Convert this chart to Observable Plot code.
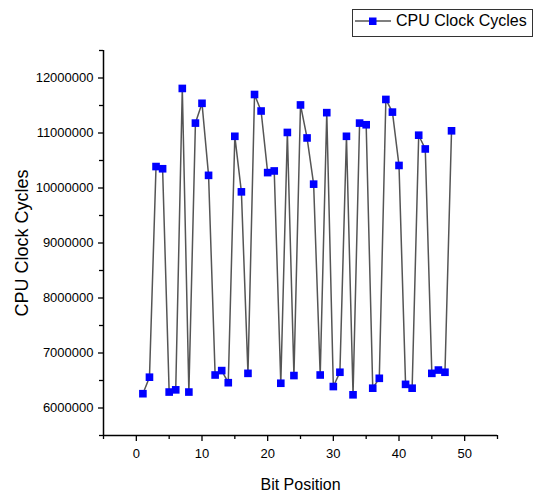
<!DOCTYPE html>
<html><head><meta charset="utf-8">
<script src="https://cdn.jsdelivr.net/npm/d3@7"></script>
<script src="https://cdn.jsdelivr.net/npm/@observablehq/plot@0.6"></script>
<style>
body{margin:0;background:#fff;font-family:"Liberation Sans",Arial,sans-serif;}
#wrap{position:relative;width:537px;height:495px;}
#legend{position:absolute;left:352px;top:9px;width:181px;height:28px;border:1px solid #333;background:#fff;box-sizing:border-box;display:flex;align-items:center;}
#legend span{font-size:16px;color:#000;margin-left:4px;line-height:1;position:relative;top:-2px;}
#legend svg{margin-left:1px;position:relative;top:-2px;}
g[aria-label="y-axis label"] text{font-size:18px;}
g[aria-label="x-axis label"] text{font-size:16px;}
</style></head><body><div id="wrap"><div id="legend"></div></div>
<script>
const bitPosition = [1,2,3,4,5,6,7,8,9,10,11,12,13,14,15,16,17,18,19,20,21,22,23,24,25,26,27,28,29,30,31,32,33,34,35,36,37,38,39,40,41,42,43,44,45,46,47,48];
const clockCycles = [6260000,6560000,10390000,10350000,6290000,6330000,11810000,6290000,11180000,11540000,
  10230000,6600000,6680000,6460000,10940000,9930000,6630000,11700000,11400000,10280000,
  10310000,6450000,11010000,6590000,11510000,10910000,10070000,6600000,11370000,6390000,
  6650000,10940000,6240000,11180000,11150000,6360000,6540000,11610000,11380000,10410000,
  6430000,6360000,10960000,10710000,6630000,6690000,6650000,11040000];
const xTicks = [0,10,20,30,40,50];
const xMinorTicks = [-5,5,15,25,35,45,55];
const yTicks = [6000000,7000000,8000000,9000000,10000000,11000000,12000000];
const yMinorTicks = [5500000,6500000,7500000,8500000,9500000,10500000,11500000,12500000];
const xDomain = [-5,55];
const yDomain = [5500000,12500000];
const seriesName = "CPU Clock Cycles";
const xLabel = "Bit Position";
const yLabel = "CPU Clock Cycles";

const data = bitPosition.map((b,i)=>({bit:b, cycles:clockCycles[i]}));

const chart = Plot.plot({
  width:537, height:495,
  marginLeft:103, marginRight:40, marginTop:50, marginBottom:60,
  style:{fontFamily:'"Liberation Sans", Arial, sans-serif', fontSize:"13px", color:"#000", background:"#fff"},
  x:{domain:xDomain, label:null},
  y:{domain:yDomain, label:null},
  marks:[
    Plot.axisX(xMinorTicks,{tickSize:4, text:null, label:null, strokeWidth:1.3}),
    Plot.axisX(xTicks,{tickSize:6, tickPadding:7, label:xLabel, labelAnchor:"center", labelArrow:"none", labelOffset:54, strokeWidth:1.3}),
    Plot.axisY(yMinorTicks,{tickSize:4, text:null, label:null, strokeWidth:1.3}),
    Plot.axisY(yTicks,{tickSize:5, tickPadding:5, tickFormat:d3.format("d"), label:null, strokeWidth:1.3}),
    Plot.axisY([],{label:yLabel, labelAnchor:"center", labelArrow:"none", labelOffset:88, dx:5, tickSize:0}),
    Plot.ruleY([yDomain[0]], {stroke:"#000", strokeWidth:1.5}),
    Plot.ruleX([xDomain[0]], {stroke:"#000", strokeWidth:1.5}),
    Plot.line(data, {x:"bit", y:"cycles", stroke:"#555", strokeWidth:1.5}),
    Plot.dot(data, {x:"bit", y:"cycles", symbol:"square", fill:"#0000ff", stroke:"none", r:4.3})
  ]
});
document.getElementById("wrap").prepend(chart);

// legend
const lg = document.getElementById("legend");
const sw = d3.create("svg").attr("width",38).attr("height",12);
sw.append("line").attr("x1",1).attr("x2",37).attr("y1",6).attr("y2",6).attr("stroke","#555").attr("stroke-width",1.5);
sw.append("rect").attr("x",15).attr("y",2.5).attr("width",7.5).attr("height",7.5).attr("fill","#0000ff");
lg.append(sw.node());
const sp = document.createElement("span"); sp.textContent = seriesName; lg.append(sp);
</script>
</body></html>
